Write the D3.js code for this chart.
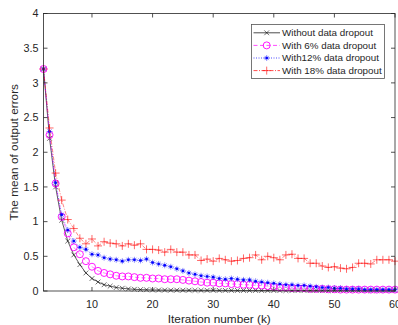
<!DOCTYPE html>
<html>
<head>
<meta charset="utf-8">
<script src="https://cdn.jsdelivr.net/npm/d3@7"></script>
<style>
  body { margin: 0; background: #fff; }
  svg { display: block; font-family: "Liberation Sans", Arial, sans-serif; }
</style>
</head>
<body>
<div id="chart"></div>
<script>
// iteration numbers 2..60
const iterations = [2,3,4,5,6,7,8,9,10,11,12,13,14,15,16,17,18,19,20,21,22,23,24,25,26,27,28,29,30,
  31,32,33,34,35,36,37,38,39,40,41,42,43,44,45,46,47,48,49,50,51,52,53,54,55,56,57,58,59,60]

const noDropout = [3.2,2.2,1.5,1.02,0.72,0.52,0.38,0.26,0.18,0.13,0.09,0.07,0.05,0.04,0.03,0.025,0.02,0.018,0.015,
  0.014,0.013,0.012,0.012,0.011,0.011,0.01,0.01,0.01,0.01,0.009,0.009,0.009,0.008,0.008,0.008,0.008,0.007,0.007,0.007,
  0.007,0.006,0.006,0.006,0.006,0.006,0.006,0.005,0.005,0.005,0.005,0.005,0.005,0.005,0.005,0.005,0.005,0.005,0.005,0.005]

const dropout6 = [3.2,2.25,1.55,1.07,0.83,0.63,0.53,0.43,0.35,0.29,0.26,0.24,0.22,0.21,0.21,0.2,0.19,0.19,0.18,
  0.18,0.17,0.17,0.17,0.16,0.15,0.14,0.13,0.12,0.12,0.11,0.11,0.1,0.1,0.09,0.09,0.08,0.08,0.07,0.06,
  0.05,0.05,0.04,0.04,0.04,0.03,0.03,0.03,0.025,0.025,0.02,0.02,0.02,0.02,0.02,0.02,0.02,0.02,0.02,0.02]

const dropout12 = [3.2,2.3,1.56,1.1,0.88,0.72,0.63,0.6,0.53,0.52,0.48,0.46,0.45,0.43,0.45,0.45,0.44,0.46,0.41,
  0.39,0.37,0.35,0.32,0.29,0.26,0.24,0.22,0.21,0.2,0.18,0.17,0.18,0.17,0.16,0.16,0.14,0.13,0.12,0.11,
  0.1,0.09,0.09,0.08,0.08,0.07,0.06,0.05,0.05,0.04,0.04,0.03,0.03,0.03,0.02,0.02,0.02,0.02,0.02,0.02]

const dropout18 = [3.2,2.35,1.7,1.31,1.03,0.9,0.76,0.68,0.75,0.65,0.71,0.69,0.68,0.65,0.68,0.66,0.68,0.6,0.6,
  0.59,0.56,0.6,0.56,0.56,0.52,0.52,0.44,0.46,0.43,0.47,0.45,0.43,0.44,0.47,0.48,0.52,0.45,0.5,0.48,
  0.45,0.52,0.53,0.47,0.47,0.4,0.4,0.36,0.34,0.35,0.33,0.32,0.34,0.4,0.4,0.39,0.45,0.45,0.45,0.43]

const seriesNames = ['Without data dropout', 'With 6% data dropout', 'With12% data dropout', 'With 18% data dropout']
const xTicks = [10, 20, 30, 40, 50, 60]
const yTicks = [0, 0.5, 1, 1.5, 2, 2.5, 3, 3.5, 4]

const width = 398, height = 325
const margin = { left: 43.5, right: 3, top: 13.5, bottom: 34 }
const textColor = '#262626'

const series = [
  { name: seriesNames[0], values: noDropout, color: '#000000', dash: null, marker: 'x', lw: 0.8 },
  { name: seriesNames[1], values: dropout6, color: '#ff00ff', dash: '4,2.5', marker: 'o', lw: 0.6 },
  { name: seriesNames[2], values: dropout12, color: '#0000ff', dash: '1,1.5', marker: '*', lw: 0.6 },
  { name: seriesNames[3], values: dropout18, color: '#ff0000', dash: '4,1.5,1,1.5', marker: '+', lw: 0.6 }
]

const svg = d3.select('#chart').append('svg')
  .attr('width', width)
  .attr('height', height)

const x = d3.scaleLinear().domain([2, 60]).range([margin.left, width - margin.right])
const y = d3.scaleLinear().domain([0, 4]).range([height - margin.bottom, margin.top])

const plotLeft = x.range()[0], plotRight = x.range()[1]
const plotTop = y.range()[1], plotBottom = y.range()[0]

// clip so the first point sits on the axis like matlab
svg.append('defs').append('clipPath').attr('id', 'plotClip')
  .append('rect')
  .attr('x', plotLeft - 6).attr('y', plotTop)
  .attr('width', plotRight - plotLeft + 12).attr('height', plotBottom - plotTop + 6)

function drawMarker(g, type, cx, cy, color) {
  if (type === 'x') {
    const s = 2.4
    g.append('path').attr('d', `M${cx - s},${cy - s}L${cx + s},${cy + s}M${cx - s},${cy + s}L${cx + s},${cy - s}`)
      .attr('stroke', color).attr('stroke-width', 0.8).attr('fill', 'none').attr('opacity', 0.7)
  } else if (type === 'o') {
    g.append('circle').attr('cx', cx).attr('cy', cy).attr('r', 3.5)
      .attr('stroke', color).attr('stroke-width', 0.9).attr('fill', 'none')
  } else if (type === '*') {
    const s = 3
    const d = s * 0.7
    g.append('path')
      .attr('d', `M${cx - s},${cy}L${cx + s},${cy}M${cx},${cy - s}L${cx},${cy + s}M${cx - d},${cy - d}L${cx + d},${cy + d}M${cx - d},${cy + d}L${cx + d},${cy - d}`)
      .attr('stroke', color).attr('stroke-width', 0.8).attr('fill', 'none').attr('opacity', 0.55)
    g.append('circle').attr('cx', cx).attr('cy', cy).attr('r', 1.3).attr('fill', color)
  } else if (type === '+') {
    const s = 4
    g.append('path').attr('d', `M${cx - s},${cy}L${cx + s},${cy}M${cx},${cy - s}L${cx},${cy + s}`)
      .attr('stroke', color).attr('stroke-width', 0.8).attr('fill', 'none').attr('opacity', 0.75)
  }
}

const line = d3.line()
  .x((d, i) => x(iterations[i]))
  .y(d => y(d))

const plot = svg.append('g').attr('clip-path', 'url(#plotClip)')

series.forEach(s => {
  const g = plot.append('g')
  g.append('path')
    .datum(s.values)
    .attr('d', line)
    .attr('fill', 'none')
    .attr('stroke', s.color)
    .attr('stroke-width', s.lw)
    .attr('stroke-dasharray', s.dash)
    .attr('opacity', 0.8)
  s.values.forEach((v, i) => drawMarker(g, s.marker, x(iterations[i]), y(v), s.color))
})

// axes box with inward ticks on all four sides
const axisColor = '#262626'
svg.append('rect')
  .attr('x', plotLeft).attr('y', plotTop)
  .attr('width', plotRight - plotLeft).attr('height', plotBottom - plotTop)
  .attr('fill', 'none').attr('stroke', axisColor).attr('stroke-width', 0.8)

const tickLen = 4
const ticks = svg.append('g').attr('stroke', axisColor).attr('stroke-width', 0.8)
xTicks.forEach(t => {
  ticks.append('line').attr('x1', x(t)).attr('x2', x(t)).attr('y1', plotBottom).attr('y2', plotBottom - tickLen)
  ticks.append('line').attr('x1', x(t)).attr('x2', x(t)).attr('y1', plotTop).attr('y2', plotTop + tickLen)
})
yTicks.forEach(t => {
  ticks.append('line').attr('x1', plotLeft).attr('x2', plotLeft + tickLen).attr('y1', y(t)).attr('y2', y(t))
  ticks.append('line').attr('x1', plotRight).attr('x2', plotRight - tickLen).attr('y1', y(t)).attr('y2', y(t))
})

svg.append('g').selectAll('text')
  .data(xTicks)
  .enter()
  .append('text')
  .attr('x', d => x(d))
  .attr('y', plotBottom + 17)
  .attr('text-anchor', 'middle')
  .attr('font-size', 10.8)
  .attr('fill', textColor)
  .text(d => d)

svg.append('g').selectAll('text')
  .data(yTicks)
  .enter()
  .append('text')
  .attr('x', plotLeft - 5)
  .attr('y', d => y(d))
  .attr('dy', '0.35em')
  .attr('text-anchor', 'end')
  .attr('font-size', 10.8)
  .attr('fill', textColor)
  .text(d => d)

svg.append('text')
  .attr('x', (plotLeft + plotRight) / 2)
  .attr('y', 323)
  .attr('text-anchor', 'middle')
  .attr('font-size', 11.8)
  .attr('fill', textColor)
  .text('Iteration number (k)')

svg.append('text')
  .attr('transform', `translate(18,${(plotTop + plotBottom) / 2}) rotate(-90)`)
  .attr('text-anchor', 'middle')
  .attr('font-size', 11.8)
  .attr('fill', textColor)
  .text('The mean of output errors')

// legend
const legend = svg.append('g')
legend.append('rect')
  .attr('x', 251.5).attr('y', 24.5).attr('width', 133).attr('height', 54)
  .attr('fill', '#fff').attr('stroke', '#555').attr('stroke-width', 0.8)

series.forEach((s, i) => {
  const ly = 32.8 + i * 12.6
  legend.append('line')
    .attr('x1', 253.5).attr('x2', 280).attr('y1', ly).attr('y2', ly)
    .attr('stroke', s.color).attr('stroke-width', 0.7)
    .attr('stroke-dasharray', s.dash)
  drawMarker(legend, s.marker, 266.7, ly, s.color)
  legend.append('text')
    .attr('x', 282).attr('y', ly).attr('dy', '0.35em')
    .attr('font-size', 9.8)
    .attr('fill', textColor)
    .text(s.name)
})
</script>
</body>
</html>
